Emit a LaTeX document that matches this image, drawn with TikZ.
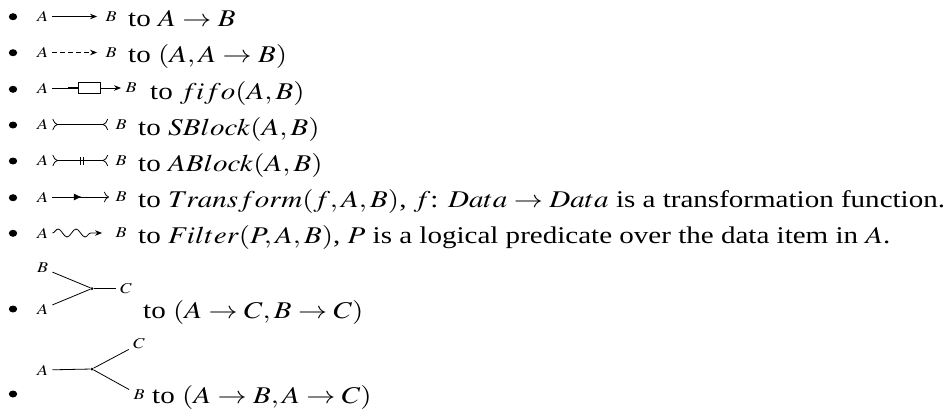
\documentclass[tikz,border=0pt]{standalone}
\usepackage{mathptmx}
\usepackage{fontspec}
\setmainfont{Liberation Serif}
\usetikzlibrary{arrows.meta,calc,decorations.pathmorphing,decorations.markings}

\begin{document}
\begin{tikzpicture}[
  x=1pt,y=-1pt,
  wire/.style={
    line width=0.8pt,
    draw=black
  },
  headtip/.style={
    -{Stealth[length=7pt,width=5.5pt]}
  },
  blocktips/.style={
    {To[reversed,scale=1.6]}-{To[reversed,scale=1.6]}
  },
  lbl/.style={
    inner xsep=3.5pt,
    inner ysep=1pt,
    xscale=1.2,
    font=\fontsize{15}{17}\selectfont
  },
  desc/.style={
    anchor=base west,
    inner sep=0pt,
    xscale=1.21,
    font=\fontsize{24}{29}\selectfont
  },
  itemdot/.style={
    circle,
    fill=black,
    inner sep=0pt,
    minimum size=7pt,
    xscale=1.2
  },
  joint/.style={
    circle,
    fill=black,
    inner sep=0pt,
    minimum size=3pt
  },
  fifobox/.style={
    draw=black,
    line width=0.8pt,
    minimum width=22pt,
    minimum height=11pt,
    inner sep=0pt
  }
]
\useasboundingbox (0,0) rectangle (951,410);

% -------------------------------------------------
% Plain and dashed channel
% -------------------------------------------------
\node[itemdot] (i1) at (13,16.7) {};
\node[lbl] (a1) at (42.5,16.5) {$A$};
\node[lbl] (b1) at (111,16.5) {$B$};
\draw[wire, headtip, shorten >=4pt] (a1) -- (b1);
\node[desc] (t1) at (128,26.5) {to $A \rightarrow B$};

\node[itemdot] (i2) at (13,52.7) {};
\node[lbl] (a2) at (42.5,52.5) {$A$};
\node[lbl] (b2) at (111,52.5) {$B$};
\draw[wire, headtip, dash pattern=on 4.5pt off 3.5pt, shorten >=4pt] (a2) -- (b2);
\node[desc] (t2) at (128,62.5) {to $(A,A \rightarrow B)$};

% -------------------------------------------------
% FIFO channel
% -------------------------------------------------
\node[itemdot] (i3) at (13,89.3) {};
\node[lbl] (a3) at (42.5,88) {$A$};
\node[fifobox] (q3) at (89,88) {};
\node[lbl] (b3) at (131,88) {$B$};
\draw[wire] (a3) -- (q3.west);
\draw[wire, line width=2pt] (q3.west) -- ++(-10,0);
\draw[wire, headtip] (q3.east) -- (b3);
\node[desc] (t3) at (150,99) {to $fifo(A,B)$};

% -------------------------------------------------
% Blocking channels
% -------------------------------------------------
\node[itemdot] (i4) at (13,125) {};
\node[lbl] (a4) at (42.5,124.5) {$A$};
\node[lbl] (b4) at (121,124.5) {$B$};
\draw[wire, blocktips, shorten >=3pt] (a4) -- (b4);
\node[desc] (t4) at (138,135) {to $SBlock(A,B)$};

\node[itemdot] (i5) at (13,161) {};
\node[lbl] (a5) at (42.5,160.5) {$A$};
\node[lbl] (b5) at (121,160.5) {$B$};
\draw[wire, blocktips, shorten >=3pt,
  decoration={markings, mark=at position 0.5 with {
    \draw[-, shorten >=0pt, line width=0.8pt] (-1.7pt,-4pt) -- (-1.7pt,4pt);
    \draw[-, shorten >=0pt, line width=0.8pt] (1.7pt,-4pt) -- (1.7pt,4pt);}},
  postaction={decorate}] (a5) -- (b5);
\node[desc] (t5) at (138,171) {to $ABlock(A,B)$};

% -------------------------------------------------
% Transform and filter
% -------------------------------------------------
\node[itemdot] (i6) at (13,197.7) {};
\node[lbl] (a6) at (42.5,197) {$A$};
\node[lbl] (b6) at (121,197) {$B$};
\draw[wire, -{To[scale=1.5]}, shorten >=2pt,
  decoration={markings, mark=at position 0.5 with {\arrow{Latex[length=8pt,width=7pt]}}},
  postaction={decorate}] (a6) -- (b6);
\node[desc] (t6) at (138,207.5)
  {to $Transform(f,A,B)$, $f$: $Data \rightarrow Data$ is a transformation function.};

\node[itemdot] (i7) at (13,233.3) {};
\node[lbl] (a7) at (42.5,233) {$A$};
\node[lbl] (b7) at (121,233) {$B$};
\draw[wire, headtip, shorten >=9pt,
  decorate, decoration={snake, segment length=18pt, amplitude=4pt, post length=15pt}] (a7) -- (b7);
\node[desc] (t7) at (138,243.5)
  {to $Filter(P,A,B)$, $P$ is a logical predicate over the data item in $A$.};

% -------------------------------------------------
% Merge and split
% -------------------------------------------------
\node[itemdot] (i8) at (13,309) {};
\node[lbl] (b8) at (42.5,268) {$B$};
\node[lbl] (a8) at (42.5,309) {$A$};
\node[joint] (j8) at (92,288.5) {};
\node[lbl] (c8) at (126,288.5) {$C$};
\draw[wire] (b8) -- (j8);
\draw[wire] (a8) -- (j8);
\draw[wire] (j8) -- (c8);
\node[desc] (t8) at (143,318) {to $(A \rightarrow C, B \rightarrow C)$};

\node[itemdot] (i9) at (13,394) {};
\node[lbl] (a9) at (42.5,370) {$A$};
\node[joint] (j9) at (92,369) {};
\node[lbl] (c9) at (139,344) {$C$};
\node[lbl] (b9) at (139,395) {$B$};
\draw[wire] (a9) -- (j9);
\draw[wire] (j9) -- (c9);
\draw[wire] (j9) -- (b9);
\node[desc] (t9) at (152,403) {to $(A \rightarrow B, A \rightarrow C)$};

\end{tikzpicture}
\end{document}
